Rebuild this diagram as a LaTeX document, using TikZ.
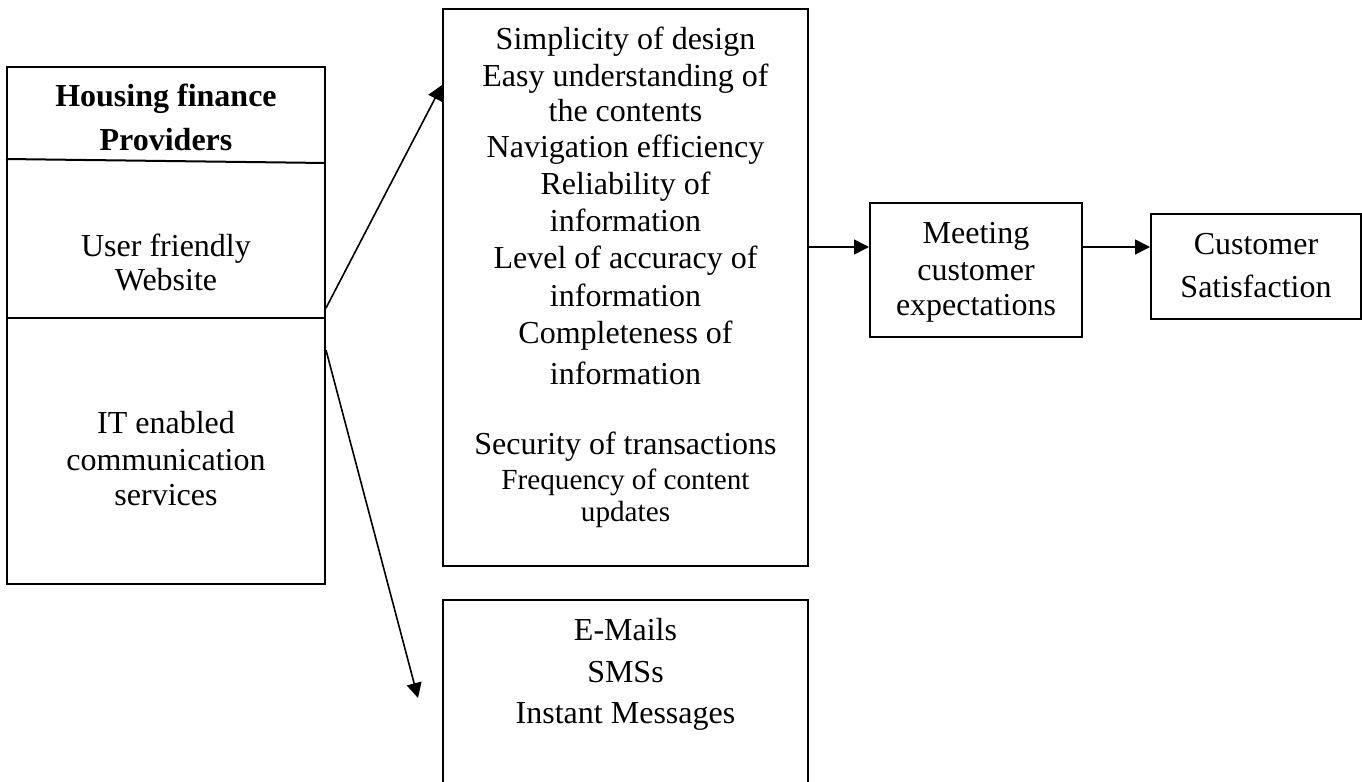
\documentclass[tikz,border=0pt]{standalone}
\usepackage{fontspec}
\setmainfont{Liberation Serif}
\usetikzlibrary{arrows.meta}
\begin{document}
\begin{tikzpicture}[x=0.5pt,y=-0.5pt,
  box/.style={draw, line width=1pt, inner sep=0pt},
  rule/.style={line width=1pt},
  txt/.style={inner sep=0pt, anchor=base, font=\fontsize{16}{19}\selectfont},
  txtb/.style={txt, font=\fontsize{16}{19}\selectfont\bfseries},
  txtsm/.style={txt, font=\fontsize{14.6}{17}\selectfont},
  arr/.style={line width=0.8pt, -{Triangle[length=7.5pt,width=7.5pt]}}]
\useasboundingbox (0,0) rectangle (1362,782);

% boxes
\node[box, minimum width=159pt, minimum height=258.5pt] (prov) at (166,325.5) {};
\node[box, minimum width=182.5pt, minimum height=278.5pt] (web) at (625.5,287.5) {};
\node[box, minimum width=106pt, minimum height=67pt] (meet) at (976,270) {};
\node[box, minimum width=105pt, minimum height=52.5pt] (sat) at (1256,266.5) {};

% channels box, open at the bottom edge
\coordinate (cbl) at (443,782);
\coordinate (ctr) at (808,600);
\coordinate (cbr) at (808,782);
\draw[rule] (cbl) |- (ctr) -- (cbr);

% section rules of the provider box
\draw[rule] (prov.west |- 0,159) -- (prov.east |- 0,163);
\draw[rule] (prov.west |- 0,318) -- (prov.east |- 0,318);

% provider box texts
\foreach \yy/\t [count=\i] in {106/Housing finance, 150/Providers}
  \node[txtb] (hp\i) at (166,\yy) {\t};
\foreach \yy/\t [count=\i] in {256/User friendly, 290/Website,
    433/IT enabled, 470/communication, 505/services}
  \node[txt] (pv\i) at (166,\yy) {\t};

% website attributes
\foreach \yy/\t [count=\i] in {49/Simplicity of design, 86/Easy understanding of,
    121/the contents, 157/Navigation efficiency, 194/Reliability of,
    231/information, 268/Level of accuracy of, 306/information,
    343/Completeness of, 384/information, 454/Security of transactions}
  \node[txt] (wa\i) at (625.5,\yy) {\t};
\foreach \yy/\t [count=\i] in {489/Frequency of content, 521/updates}
  \node[txtsm] (wf\i) at (625.5,\yy) {\t};

% communication channels
\foreach \yy/\t [count=\i] in {640/E-Mails, 682/SMSs, 723/Instant Messages}
  \node[txt] (ch\i) at (625.5,\yy) {\t};

% outcome boxes
\foreach \yy/\t [count=\i] in {243/Meeting, 280/customer, 315/expectations}
  \node[txt] (me\i) at (976,\yy) {\t};
\foreach \yy/\t [count=\i] in {254/Customer, 297/Satisfaction}
  \node[txt] (cs\i) at (1256,\yy) {\t};

% connectors
\coordinate (a2) at (418,698);
\draw[arr] (prov.east |- 0,308) -- (web.west |- 0,85);
\draw[arr] (prov.east |- 0,350) -- (a2);
\draw[arr] (web.east |- 0,247) -- (meet.west |- 0,247);
\draw[arr] (meet.east |- 0,247) -- (sat.west |- 0,247);
\end{tikzpicture}
\end{document}
